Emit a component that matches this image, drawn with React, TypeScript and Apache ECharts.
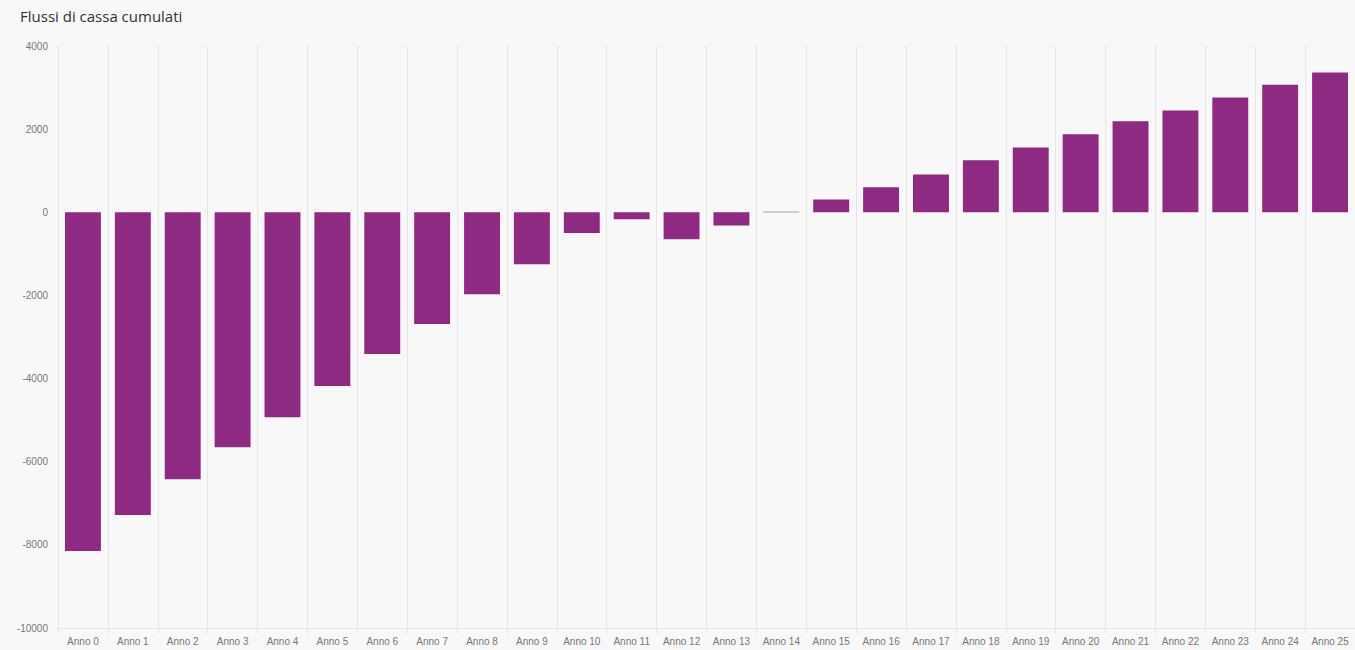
import React, { useEffect, useRef } from "react";
import * as echarts from "echarts";

const categories = [
  "Anno 0", "Anno 1", "Anno 2", "Anno 3", "Anno 4", "Anno 5", "Anno 6", "Anno 7", "Anno 8",
  "Anno 9", "Anno 10", "Anno 11", "Anno 12", "Anno 13", "Anno 14", "Anno 15", "Anno 16",
  "Anno 17", "Anno 18", "Anno 19", "Anno 20", "Anno 21", "Anno 22", "Anno 23", "Anno 24", "Anno 25",
];
const cumulativeFlows = [
  -8150, -7280, -6420, -5650, -4930, -4180, -3410, -2690, -1970, -1250, -500, -170, -650, -320,
  10, 310, 600, 910, 1250, 1560, 1875, 2190, 2450, 2760, 3070, 3360,
];
const titleText = "Flussi di cassa cumulati";

export default function App() {
  const ref = useRef<HTMLDivElement>(null);
  useEffect(() => {
    if (!ref.current) return;
    const chart = echarts.init(ref.current, undefined, { renderer: "svg" });
    chart.setOption({
      animation: false,
      backgroundColor: "#f8f8f8",
      title: {
        text: titleText,
        left: 15,
        top: 3,
        textStyle: { fontFamily: "Open Sans", fontSize: 15, fontWeight: "normal", color: "#333" },
      },
      grid: { left: 58, right: 0, top: 46, bottom: 22, containLabel: false },
      xAxis: {
        type: "category",
        data: categories,
        boundaryGap: true,
        axisLine: { onZero: false, lineStyle: { color: "#e6e6e6" } },
        axisTick: { show: true, length: 5, lineStyle: { color: "#e6e6e6" } },
        splitLine: { show: true, lineStyle: { color: "#e6e6e6", width: 1 } },
        axisLabel: {
          interval: 0,
          color: "#777",
          fontSize: 10,
          margin: 8,
          fontFamily: "Liberation Sans",
        },
      },
      yAxis: {
        type: "value",
        min: -10000,
        max: 4000,
        interval: 2000,
        axisLine: { show: false },
        axisTick: { show: false },
        splitLine: { show: false },
        axisLabel: {
          color: "#777",
          fontSize: 10,
          margin: 10,
          fontFamily: "Liberation Sans",
          formatter: (v: number) => String(v),
        },
      },
      series: [
        {
          type: "bar",
          data: cumulativeFlows,
          barWidth: "72%",
          itemStyle: { color: "#8e2a82" },
        },
      ],
    });
    return () => chart.dispose();
  }, []);
  return (
    <div style={{ position: "fixed", left: 0, top: 0, width: 1355, height: 650, overflow: "hidden" }}>
      <div ref={ref} style={{ width: 1355, height: 650 }} />
    </div>
  );
}
